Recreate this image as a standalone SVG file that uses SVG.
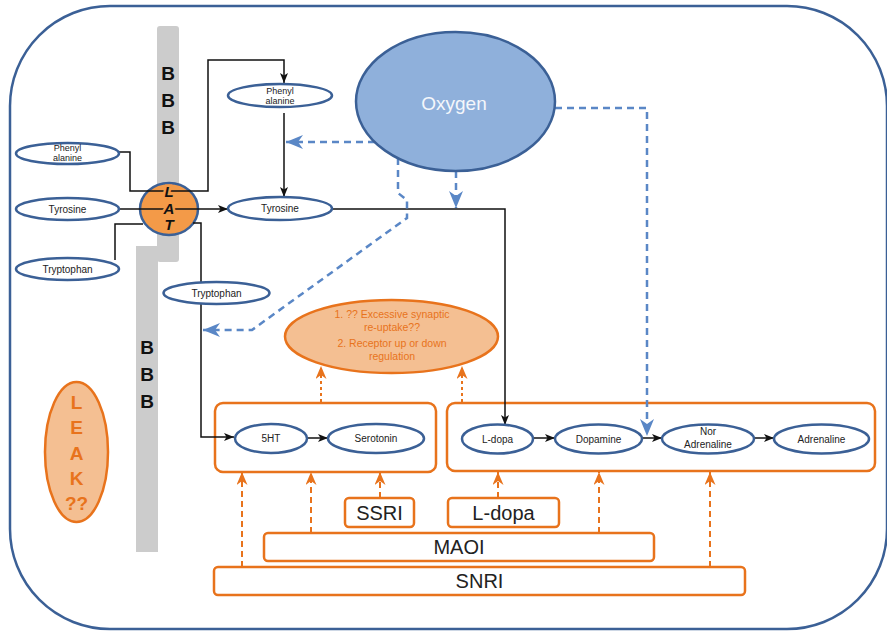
<svg xmlns="http://www.w3.org/2000/svg" width="887" height="631" viewBox="0 0 887 631">
<defs>
<style>
.bl{fill:#fff;stroke:#3b6096;stroke-width:2.5}
.t{font-family:"Liberation Sans",Arial,sans-serif;fill:#222;text-anchor:middle}
.s9{font-size:9px}
.s10{font-size:10px}
.big{font-size:20px}
.box{fill:#fff;stroke:#e8731c;stroke-width:2.5}
.grp{fill:none;stroke:#e8731c;stroke-width:2.5}
.ln{fill:none;stroke:#111;stroke-width:1.5}
.bd{fill:none;stroke:#5a87c6;stroke-width:2.5;stroke-dasharray:7,5}
.od{fill:none;stroke:#e8731c;stroke-width:2;stroke-dasharray:6,4}
.odt{fill:none;stroke:#e8731c;stroke-width:2;stroke-dasharray:3,3}
.bbb{font-family:"Liberation Sans",Arial,sans-serif;font-weight:bold;font-size:19px;fill:#111;text-anchor:middle}
.leak{font-family:"Liberation Sans",Arial,sans-serif;font-weight:bold;font-size:19px;fill:#e8731c;text-anchor:middle}
.ot{font-family:"Liberation Sans",Arial,sans-serif;font-size:10.5px;fill:#e8731c;text-anchor:middle}
</style>
<marker id="ab" markerUnits="userSpaceOnUse" markerWidth="10" markerHeight="8" refX="10" refY="4" orient="auto"><path d="M0,0 L10,4 L0,8 L2.5,4 z" fill="#111"/></marker>
<marker id="abl" markerUnits="userSpaceOnUse" markerWidth="17" markerHeight="14" refX="17" refY="7" orient="auto"><path d="M0,0 L17,7 L0,14 L5,7 z" fill="#5a87c6"/></marker>
<marker id="aor" markerUnits="userSpaceOnUse" markerWidth="13" markerHeight="11" refX="13" refY="5.5" orient="auto"><path d="M0,0 L13,5.5 L0,11 L4,5.5 z" fill="#e8731c"/></marker>
</defs>

<rect id="frame" x="10" y="6" width="877" height="623" rx="100" ry="100" fill="#fff" stroke="#3b6096" stroke-width="2.5"/>

<g id="bbb-upper">
<rect x="157" y="26" width="22" height="236" rx="3" fill="#cccccc"/>
<text class="bbb" x="168" y="80">B</text>
<text class="bbb" x="168" y="107">B</text>
<text class="bbb" x="168" y="134">B</text>
</g>
<g id="bbb-lower">
<rect x="136" y="246" width="22" height="306" fill="#cccccc"/>
<text class="bbb" x="147" y="354">B</text>
<text class="bbb" x="147" y="381">B</text>
<text class="bbb" x="147" y="408">B</text>
</g>

<g id="lat">
<ellipse cx="169" cy="209" rx="29" ry="26" fill="#f39a48" stroke="#3b6096" stroke-width="2.5"/>
</g>

<g id="serotonin-box"><rect class="grp" x="215" y="403" width="221" height="69" rx="8"/></g>
<g id="catechol-box"><rect class="grp" x="447" y="403" width="428" height="68" rx="8"/></g>

<g id="connectors">
<path class="ln" d="M119,152 H130 V191 H208 V60 H284 V83" marker-end="url(#ab)"/>
<path class="ln" d="M119,209 H228" marker-end="url(#ab)"/>
<path class="ln" d="M115,260 V224 H143"/>
<path class="ln" d="M193,223 H201 V437 H234" marker-end="url(#ab)"/>
<path class="ln" d="M284,113 V197" marker-end="url(#ab)"/>
<path class="ln" d="M332,209 H505 V425" marker-end="url(#ab)"/>
<path class="ln" d="M307,438 H328" marker-end="url(#ab)"/>
<path class="ln" d="M533,438 H555" marker-end="url(#ab)"/>
<path class="ln" d="M642,438 H662" marker-end="url(#ab)"/>
<path class="ln" d="M754,438 H774" marker-end="url(#ab)"/>
<path class="bd" d="M375,142 H286" marker-end="url(#abl)"/>
<path class="bd" d="M456,171 V208" marker-end="url(#abl)"/>
<path class="bd" d="M555,108 H647 V436" marker-end="url(#abl)"/>
<path class="bd" d="M398,158 V193 L407,200 V218 L252,330 H203" marker-end="url(#abl)"/>
<path class="odt" d="M321,402 V366" marker-end="url(#aor)"/>
<path class="odt" d="M462,402 V366" marker-end="url(#aor)"/>
<path class="od" d="M242,567 V472" marker-end="url(#aor)"/>
<path class="od" d="M311,533 V472" marker-end="url(#aor)"/>
<path class="od" d="M380,498 V472" marker-end="url(#aor)"/>
<path class="od" d="M498,498 V472" marker-end="url(#aor)"/>
<path class="od" d="M599,533 V472" marker-end="url(#aor)"/>
<path class="od" d="M710,567 V472" marker-end="url(#aor)"/>
</g>

<g id="lat-label" font-family="Liberation Sans,Arial,sans-serif" font-weight="bold" font-style="italic" font-size="15" text-anchor="middle" fill="#111" stroke="#f39a48" stroke-width="5" paint-order="stroke">
<text x="169" y="197">L</text>
<text x="169" y="214">A</text>
<text x="169" y="230">T</text>
</g>

<g id="phe-blood"><ellipse class="bl" cx="67.5" cy="153.5" rx="51.5" ry="10.5"/><text class="t s9" x="67.5" y="151">Phenyl</text><text class="t s9" x="67.5" y="161">alanine</text></g>
<g id="tyr-blood"><ellipse class="bl" cx="67.5" cy="209" rx="51.5" ry="11"/><text class="t s10" x="67.5" y="212.5">Tyrosine</text></g>
<g id="trp-blood"><ellipse class="bl" cx="67.5" cy="269" rx="51.5" ry="11"/><text class="t s10" x="67.5" y="272.5">Tryptophan</text></g>
<g id="phe-brain"><ellipse class="bl" cx="280" cy="95.5" rx="52" ry="11.5"/><text class="t s9" x="280" y="94">Phenyl</text><text class="t s9" x="280" y="104">alanine</text></g>
<g id="tyr-brain"><ellipse class="bl" cx="280" cy="208.5" rx="52" ry="11.5"/><text class="t s10" x="280" y="212">Tyrosine</text></g>
<g id="trp-brain"><ellipse class="bl" cx="216.5" cy="293" rx="53" ry="11"/><text class="t s10" x="216.5" y="296.5">Tryptophan</text></g>

<g id="oxygen"><ellipse cx="455.5" cy="101.5" rx="99.5" ry="69.5" fill="#8fb0db" stroke="#3b6096" stroke-width="2.5"/><text x="454" y="110" font-family="Liberation Sans,Arial,sans-serif" font-size="19" fill="#f4f7fb" text-anchor="middle">Oxygen</text></g>

<g id="hypotheses"><ellipse cx="391.5" cy="336.5" rx="106.5" ry="36.5" fill="#f4bf92" stroke="#e8731c" stroke-width="2.5"/>
<text class="ot" x="392" y="318">1. ?? Excessive synaptic</text>
<text class="ot" x="392" y="331">re-uptake??</text>
<text class="ot" x="392" y="347">2. Receptor up or down</text>
<text class="ot" x="392" y="360">regulation</text></g>

<g id="leak"><ellipse cx="76.5" cy="452" rx="31.5" ry="70" fill="#f4bf92" stroke="#e8731c" stroke-width="2.5"/>
<text class="leak" x="76.5" y="409">L</text>
<text class="leak" x="76.5" y="434">E</text>
<text class="leak" x="76.5" y="460">A</text>
<text class="leak" x="76.5" y="485">K</text>
<text class="leak" x="76.5" y="510">??</text></g>

<g id="n-5ht"><ellipse class="bl" cx="271" cy="438.5" rx="36" ry="14.5"/><text class="t s10" x="271" y="442">5HT</text></g>
<g id="n-serotonin"><ellipse class="bl" cx="376" cy="438.5" rx="48" ry="14.5"/><text class="t s10" x="376" y="442">Serotonin</text></g>
<g id="n-ldopa"><ellipse class="bl" cx="497.5" cy="439" rx="35.5" ry="14.5"/><text class="t s10" x="497.5" y="442.5">L-dopa</text></g>
<g id="n-dopamine"><ellipse class="bl" cx="598.5" cy="439" rx="43.5" ry="14.5"/><text class="t s10" x="598.5" y="442.5">Dopamine</text></g>
<g id="n-noradrenaline"><ellipse class="bl" cx="708" cy="439" rx="46" ry="14.5"/><text class="t s10" x="708" y="435">Nor</text><text class="t s10" x="708" y="448">Adrenaline</text></g>
<g id="n-adrenaline"><ellipse class="bl" cx="821.5" cy="439" rx="47.5" ry="14.5"/><text class="t s10" x="821.5" y="442.5">Adrenaline</text></g>

<g id="ssri"><rect class="box" x="345" y="498" width="69" height="29" rx="4"/><text class="t big" x="379.5" y="520">SSRI</text></g>
<g id="ldopa-drug"><rect class="box" x="448" y="498" width="111" height="29" rx="4"/><text class="t big" x="503.5" y="520">L-dopa</text></g>
<g id="maoi"><rect class="box" x="264" y="533" width="390" height="28" rx="4"/><text class="t big" x="459" y="554">MAOI</text></g>
<g id="snri"><rect class="box" x="214" y="567" width="531" height="28" rx="4"/><text class="t big" x="479.5" y="588">SNRI</text></g>
</svg>
